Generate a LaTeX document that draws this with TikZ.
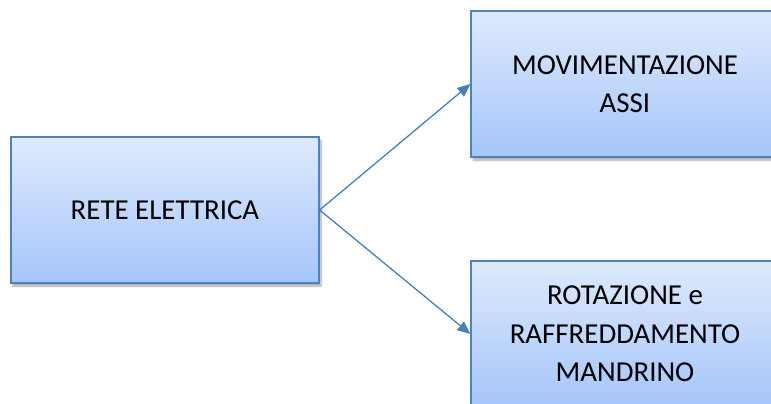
\documentclass[tikz,border=0pt]{standalone}
\usepackage{fontspec}
\setmainfont{Carlito}
\usetikzlibrary{arrows.meta,shadows.blur}
\definecolor{boxline}{RGB}{79,129,189}
\definecolor{boxtop}{RGB}{222,234,252}
\definecolor{boxbot}{RGB}{165,197,250}
\definecolor{arrowc}{RGB}{74,126,187}
\tikzset{
  blockbox/.style={draw=boxline, line width=1.2pt, top color=boxtop, bottom color=boxbot,
    minimum width=308bp, minimum height=146bp, inner sep=0pt, align=center,
    font=\fontsize{29}{38.5}\selectfont,
    blur shadow={shadow xshift=2bp, shadow yshift=-3bp, shadow blur steps=6, shadow opacity=35}},
  link/.style={draw=arrowc, line width=1.3pt, -{Triangle[length=13bp, width=11bp]}}
}
\begin{document}
\begin{tikzpicture}[x=1bp, y=-1bp]
\useasboundingbox (0,0) rectangle (771,403);
\clip (0,0) rectangle (771,403);
\node[blockbox] (rete) at (165,210) {RETE ELETTRICA};
\node[blockbox] (mov) at (625,84) {MOVIMENTAZIONE\\ASSI};
\node[blockbox] (rot) at (625,334) {ROTAZIONE e\\RAFFREDDAMENTO\\MANDRINO};
\draw[link] (rete.east) -- (mov.west);
\draw[link] (rete.east) -- (rot.west);
\end{tikzpicture}
\end{document}
